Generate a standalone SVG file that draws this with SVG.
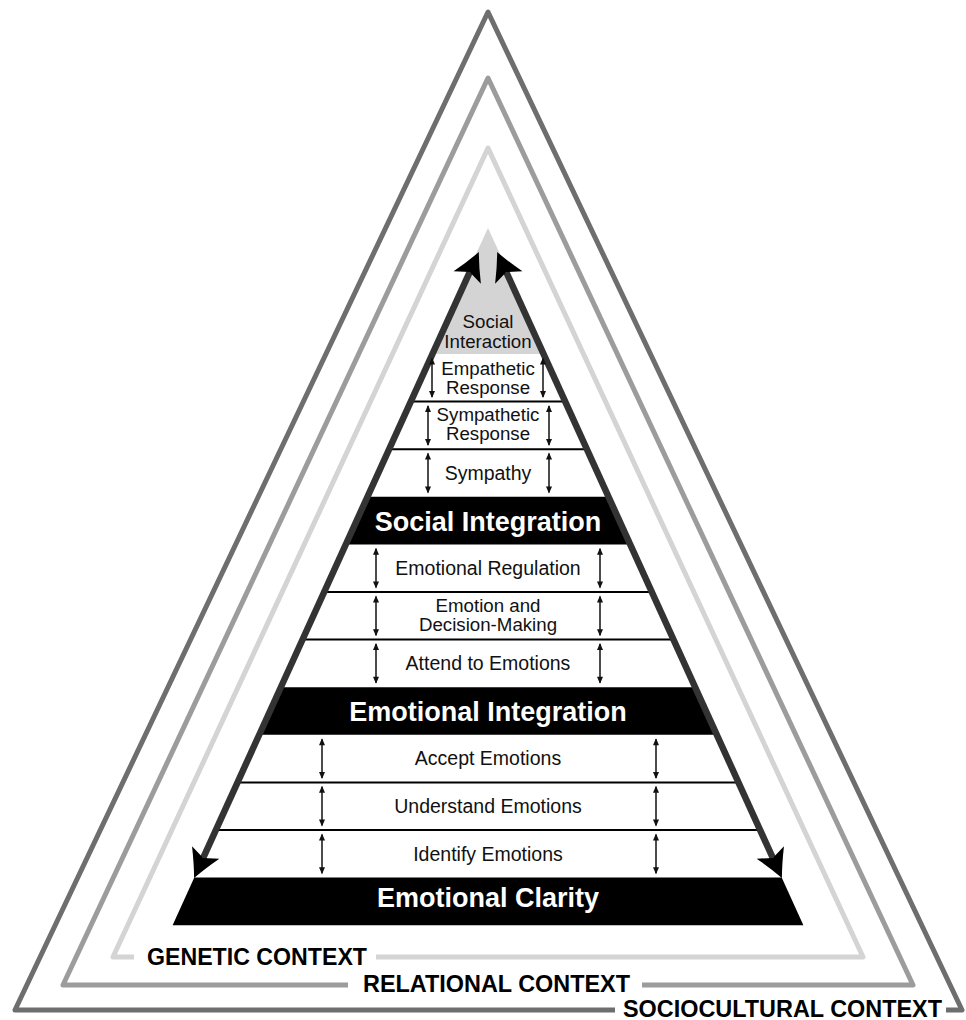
<svg xmlns="http://www.w3.org/2000/svg" width="966" height="1020" viewBox="0 0 966 1020">
<defs>
<style>
.ctx{fill:none;stroke-width:5;stroke-linejoin:round;stroke-linecap:butt}
.s{font-family:"Liberation Sans",Arial,sans-serif;font-size:19.5px;fill:#111;text-anchor:middle}
.s2{font-family:"Liberation Sans",Arial,sans-serif;font-size:18.7px;fill:#111;text-anchor:middle}
.b{font-family:"Liberation Sans",Arial,sans-serif;font-size:27px;font-weight:bold;fill:#fff;text-anchor:middle}
.c{font-family:"Liberation Sans",Arial,sans-serif;font-size:23px;font-weight:bold;fill:#000}
.band{fill:#000}
.sep{stroke:#000;stroke-width:2}
.edge{fill:none;stroke:#333;stroke-width:6.5}
.da{stroke:#111;stroke-width:1.5;fill:none}
</style>
<marker id="big" markerUnits="userSpaceOnUse" markerWidth="40" markerHeight="40" viewBox="-10 -20 40 40" refX="0" refY="0" orient="auto-start-reverse">
<path d="M22,0 Q9,-6 -6,-15 L0,0 L-6,15 Q9,6 22,0 Z" fill="#000"/>
</marker>
<marker id="sm" markerUnits="userSpaceOnUse" markerWidth="12" markerHeight="12" viewBox="-9 -5 12 10" refX="0" refY="0" orient="auto-start-reverse">
<path d="M1,0 L-6,-3 L-6,3 Z" fill="#111"/>
</marker>
</defs>
<rect width="966" height="1020" fill="#fff"/>

<g id="sociocultural-context">
<polyline class="ctx" stroke="#6e6e6e" points="615,1010 15,1010 488,12 962,1010 946,1010"/>
<text class="c" x="623" y="1016.5" textLength="319" lengthAdjust="spacingAndGlyphs">SOCIOCULTURAL CONTEXT</text>
</g>
<g id="relational-context">
<polyline class="ctx" stroke="#9c9c9c" points="348,985 63,985 488,78 913,985 642,985"/>
<text class="c" x="363" y="992" textLength="267" lengthAdjust="spacingAndGlyphs">RELATIONAL CONTEXT</text>
</g>
<g id="genetic-context">
<polyline class="ctx" stroke="#d4d4d4" points="134,957 113,957 488,148 863,957 376,957"/>
<text class="c" x="147" y="964.5" textLength="220" lengthAdjust="spacingAndGlyphs">GENETIC CONTEXT</text>
</g>

<g id="social-interaction">
<polygon points="488,228 430,354 546,354" fill="#d4d4d4"/>
<text class="s2" x="488" y="328">Social</text>
<text class="s2" x="488" y="348">Interaction</text>
</g>
<g id="empathetic-response">
<text class="s2" x="488" y="374.5">Empathetic</text>
<text class="s2" x="488" y="393.5">Response</text>
</g>
<g id="sympathetic-response">
<line class="sep" x1="409" y1="401.6" x2="567" y2="401.6"/>
<text class="s2" x="488" y="421">Sympathetic</text>
<text class="s2" x="488" y="440">Response</text>
</g>
<g id="sympathy">
<line class="sep" x1="387" y1="449.2" x2="589" y2="449.2"/>
<text class="s" x="488" y="479.5">Sympathy</text>
</g>
<g id="social-integration">
<polygon class="band" points="367.5,496.8 608.5,496.8 630.1,544.4 345.9,544.4"/>
<text class="b" x="488" y="531">Social Integration</text>
</g>
<g id="emotional-regulation">
<text class="s" x="488" y="575">Emotional Regulation</text>
</g>
<g id="emotion-and-decision-making">
<line class="sep" x1="322" y1="592" x2="654" y2="592"/>
<text class="s2" x="488" y="612">Emotion and</text>
<text class="s2" x="488" y="631">Decision-Making</text>
</g>
<g id="attend-to-emotions">
<line class="sep" x1="300" y1="639.6" x2="676" y2="639.6"/>
<text class="s" x="488" y="670">Attend to Emotions</text>
</g>
<g id="emotional-integration">
<polygon class="band" points="280.9,687.2 695.1,687.2 716.8,734.8 259.2,734.8"/>
<text class="b" x="488" y="721">Emotional Integration</text>
</g>
<g id="accept-emotions">
<text class="s" x="488" y="765.4">Accept Emotions</text>
</g>
<g id="understand-emotions">
<line class="sep" x1="235" y1="782.4" x2="741" y2="782.4"/>
<text class="s" x="488" y="813">Understand Emotions</text>
</g>
<g id="identify-emotions">
<line class="sep" x1="213" y1="830" x2="763" y2="830"/>
<text class="s" x="488" y="860.6">Identify Emotions</text>
</g>
<g id="emotional-clarity">
<polygon class="band" points="194.3,877.6 781.7,877.6 803.4,925.2 172.6,925.2"/>
<text class="b" x="488" y="906.5">Emotional Clarity</text>
</g>

<g id="connectors">
<path class="edge" d="M203.2,857.9 L469.7,272.1" marker-start="url(#big)" marker-end="url(#big)"/>
<path class="edge" d="M772.8,857.9 L506.3,272.1" marker-start="url(#big)" marker-end="url(#big)"/>
<g marker-start="url(#sm)" marker-end="url(#sm)">
<line class="da" x1="432" y1="358.5" x2="432" y2="397"/>
<line class="da" x1="543" y1="358.5" x2="543" y2="397"/>
<line class="da" x1="428" y1="406" x2="428" y2="445"/>
<line class="da" x1="549" y1="406" x2="549" y2="445"/>
<line class="da" x1="428" y1="453.5" x2="428" y2="492.5"/>
<line class="da" x1="549" y1="453.5" x2="549" y2="492.5"/>
<line class="da" x1="376" y1="548.8" x2="376" y2="587.6"/>
<line class="da" x1="600" y1="548.8" x2="600" y2="587.6"/>
<line class="da" x1="376" y1="596.4" x2="376" y2="635.2"/>
<line class="da" x1="600" y1="596.4" x2="600" y2="635.2"/>
<line class="da" x1="376" y1="644" x2="376" y2="682.8"/>
<line class="da" x1="600" y1="644" x2="600" y2="682.8"/>
<line class="da" x1="322" y1="739.2" x2="322" y2="778"/>
<line class="da" x1="656" y1="739.2" x2="656" y2="778"/>
<line class="da" x1="322" y1="786.8" x2="322" y2="825.6"/>
<line class="da" x1="656" y1="786.8" x2="656" y2="825.6"/>
<line class="da" x1="322" y1="834.4" x2="322" y2="873.2"/>
<line class="da" x1="656" y1="834.4" x2="656" y2="873.2"/>
</g>
</g>
</svg>
